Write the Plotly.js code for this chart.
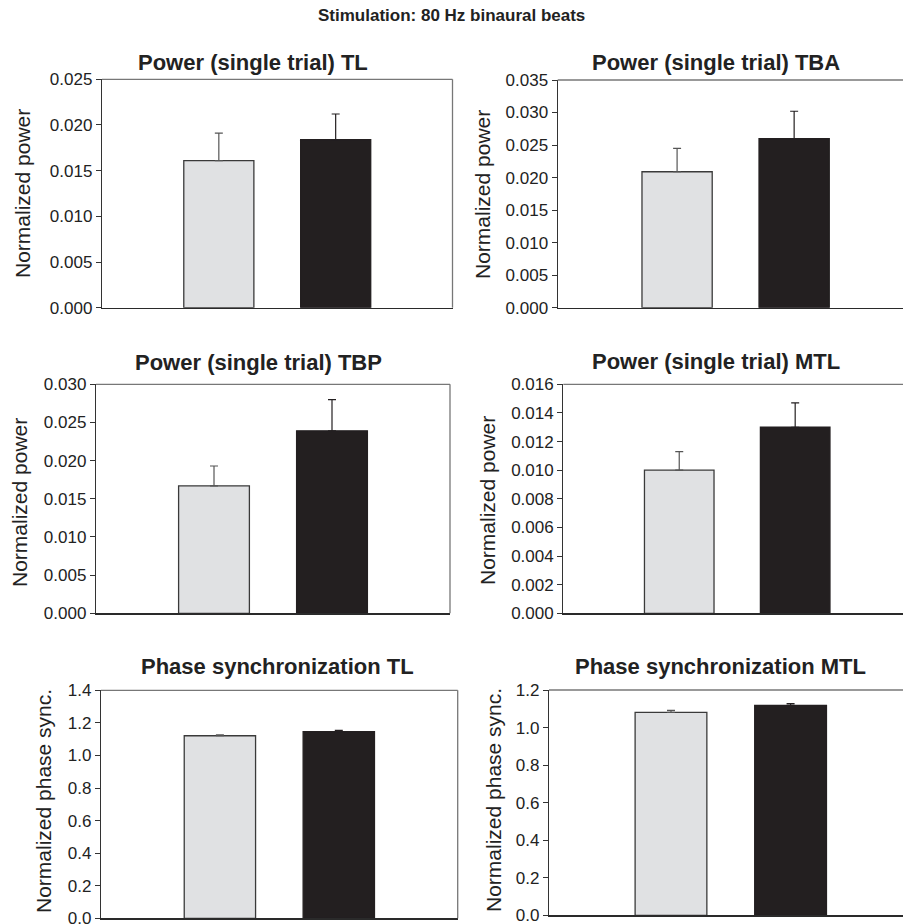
<!DOCTYPE html>
<html>
<head>
<meta charset="utf-8">
<script src="https://cdn.plot.ly/plotly-3.0.1.min.js"></script>
<style>html,body{margin:0;padding:0;background:#fff;}#chart{width:903px;height:924px;}</style>
</head>
<body>
<div id="chart"></div>
<script>
// ---- data ----
const mainTitle = "Stimulation: 80 Hz binaural beats";
const panelTitles = [
  "Power (single trial) TL",
  "Power (single trial) TBA",
  "Power (single trial) TBP",
  "Power (single trial) MTL",
  "Phase synchronization TL",
  "Phase synchronization MTL"
];
const yTitles = [
  "Normalized power", "Normalized power",
  "Normalized power", "Normalized power",
  "Normalized phase sync.", "Normalized phase sync."
];
const categories = ["Condition A", "Condition B"];
const meanA = [0.0161, 0.0209, 0.0167, 0.0100, 1.121, 1.081];
const errA  = [0.0030, 0.0036, 0.0026, 0.0013, 0.006, 0.011];
const meanB = [0.0184, 0.0260, 0.0239, 0.0130, 1.146, 1.1185];
const errB  = [0.0028, 0.0042, 0.0041, 0.0017, 0.008, 0.0085];
const yMax  = [0.025, 0.035, 0.030, 0.016, 1.4, 1.2];
const yStep = [0.005, 0.005, 0.005, 0.002, 0.2, 0.2];
const yFmt  = [".3f", ".3f", ".3f", ".3f", ".1f", ".1f"];

// ---- layout geometry (pixels) ----
const W = 903, H = 924;
const boxes = [ // [left, right, top, bottom]
  [102, 452.5, 79.3, 307.7],
  [557.7, 903, 80, 307.7],
  [96, 450, 384.3, 613.3],
  [563.3, 903, 384.3, 613.3],
  [101, 457.7, 690.3, 918.3],
  [549, 903, 690, 915.3]
];
const xRanges = [[-1, 2], [-1.02, 1.93], [-1, 2], [-1.0, 1.93], [-1, 2], [-1.02, 1.94]];
const titlePos = [[253, 62], [716, 62], [258, 363], [716, 361], [277, 666], [720, 666]];
const yTitlePos = [[23, 194], [483, 194], [19, 503], [487, 501], [43, 801], [493, 800]];

const FONT = "Liberation Sans, Arial, Helvetica, sans-serif";
const traces = [];
const layout = {
  width: W, height: H,
  margin: {l: 0, r: 0, t: 0, b: 0},
  paper_bgcolor: "#fff", plot_bgcolor: "#fff",
  showlegend: false,
  annotations: [], shapes: []
};
const px = v => v / W, py = v => 1 - v / H;

for (let i = 0; i < 6; i++) {
  const n = i === 0 ? "" : String(i + 1);
  const xa = "x" + n, ya = "y" + n;
  traces.push({
    type: "bar", x: [categories[0]], y: [meanA[i]], xaxis: xa, yaxis: ya, width: 0.6,
    marker: {color: "#e0e1e3", line: {color: "#3a3a3a", width: 1.3}},
    error_y: {type: "data", array: [errA[i]], arrayminus: [0], symmetric: false,
              color: "#555", thickness: 1.2, width: 4},
    hoverinfo: "none"
  });
  traces.push({
    type: "bar", x: [categories[1]], y: [meanB[i]], xaxis: xa, yaxis: ya, width: 0.6,
    marker: {color: "#231f20", line: {color: "#231f20", width: 1.3}},
    error_y: {type: "data", array: [errB[i]], arrayminus: [0], symmetric: false,
              color: "#231f20", thickness: 1.2, width: 4},
    hoverinfo: "none"
  });
  const b = boxes[i];
  layout["xaxis" + n] = {
    domain: [px(b[0]), px(b[1])], anchor: ya, type: "category",
    categoryorder: "array", categoryarray: categories,
    range: xRanges[i], showticklabels: false, ticks: "",
    showgrid: false, zeroline: false,
    showline: true, linecolor: "#2a2a2a", linewidth: 1.3, fixedrange: true
  };
  layout["yaxis" + n] = {
    domain: [py(b[3]), py(b[2])], anchor: xa,
    range: [0, yMax[i]], dtick: yStep[i], tick0: 0, tickformat: yFmt[i],
    ticks: "outside", ticklen: 5, tickwidth: 1, tickcolor: "#333",
    ticklabeloverflow: "allow",
    showgrid: false, zeroline: false,
    showline: true, linecolor: "#333", linewidth: 1.2,
    tickfont: {family: FONT, size: 17, color: "#222"}, fixedrange: true
  };
  // top frame line (gray)
  layout.shapes.push({type: "line", xref: xa + " domain", yref: ya + " domain",
    x0: 0, x1: 1, y0: 1, y1: 1, line: {color: "#777", width: 1.3}});
  // right frame line for left column
  if (i % 2 === 0) {
    layout.shapes.push({type: "line", xref: xa + " domain", yref: ya + " domain",
      x0: 1, x1: 1, y0: 0, y1: 1, line: {color: "#777", width: 1.3}});
  }
  layout.annotations.push({
    text: "<b>" + panelTitles[i] + "</b>", xref: "paper", yref: "paper",
    x: px(titlePos[i][0]), y: py(titlePos[i][1]), xanchor: "center", yanchor: "middle",
    showarrow: false, font: {family: FONT, size: 22, color: "#222"}
  });
  layout.annotations.push({
    text: yTitles[i], xref: "paper", yref: "paper", textangle: -90,
    x: px(yTitlePos[i][0]), y: py(yTitlePos[i][1]), xanchor: "center", yanchor: "middle",
    showarrow: false, font: {family: FONT, size: 21, color: "#222"}
  });
}
layout.annotations.push({
  text: "<b>" + mainTitle + "</b>", xref: "paper", yref: "paper",
  x: px(451), y: py(15), xanchor: "center", yanchor: "middle",
  showarrow: false, font: {family: FONT, size: 17, color: "#222"}
});

Plotly.newPlot("chart", traces, layout, {displayModeBar: false, staticPlot: true});
</script>
</body>
</html>
